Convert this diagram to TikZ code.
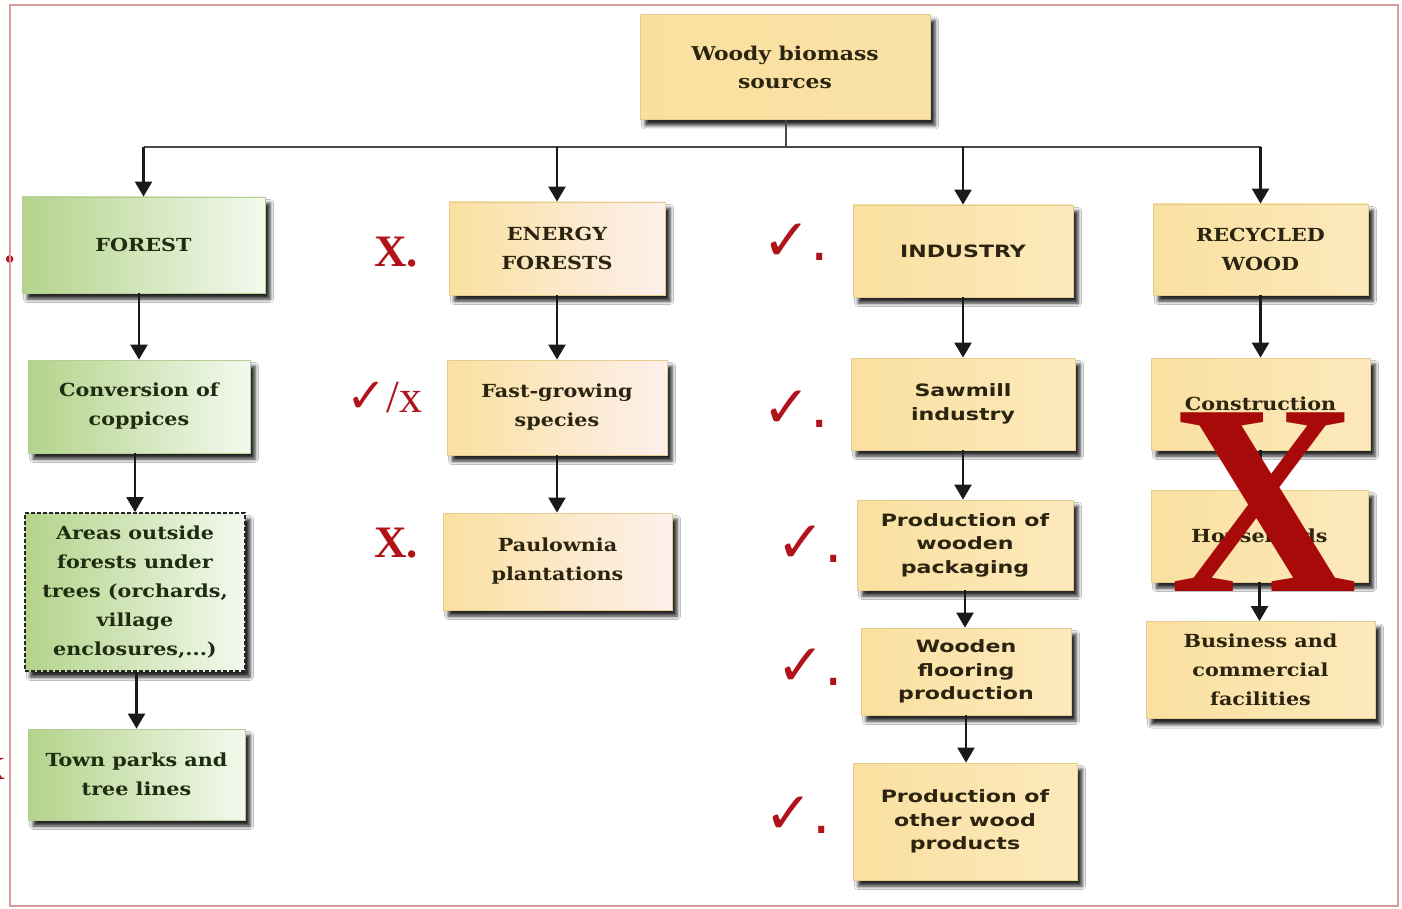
\documentclass[tikz,border=0pt]{standalone}
\usepackage{fontspec}
\usetikzlibrary{arrows.meta,shadows.blur}
\newfontfamily\boxserif[FakeStretch=1.15]{DejaVu Serif}
\newfontfamily\boxsans[FakeStretch=1.3]{DejaVu Sans}
\newfontfamily\markserif{Liberation Serif}
\newfontfamily\marksym{DejaVu Sans}
\definecolor{yfillA}{HTML}{FAE0A0}
\definecolor{yfillB}{HTML}{FCE9BC}
\definecolor{pfillB}{HTML}{FDF0EC}
\definecolor{gfillA}{HTML}{B3D38A}
\definecolor{gfillB}{HTML}{F3F9EE}
\definecolor{yline}{HTML}{E6CC8E}
\definecolor{gline}{HTML}{B4CE96}
\definecolor{ytext}{HTML}{2B2410}
\definecolor{gtext}{HTML}{1E2C10}
\definecolor{markred}{HTML}{B0141A}
\definecolor{bigred}{HTML}{A80A0A}
\definecolor{framepink}{HTML}{D99A9A}
\definecolor{conn}{HTML}{1A1A1A}
\newcommand{\chk}{{\bfseries ✓}{\mdseries .}}
\tikzset{
  base/.style={rectangle, align=center, inner sep=2pt,
    blur shadow={shadow xshift=5pt, shadow yshift=-6pt, shadow blur radius=3.5pt, shadow opacity=85}},
  ybox/.style={base, draw=yline, line width=0.8pt, left color=yfillA, right color=yfillB, text=ytext,
    font=\boxserif\bfseries\fontsize{18}{29}\selectfont},
  pbox/.style={ybox, right color=pfillB},
  gbox/.style={base, draw=gline, line width=0.8pt, left color=gfillA, right color=gfillB, text=gtext,
    font=\boxserif\bfseries\fontsize{18}{29}\selectfont},
  sbox/.style={ybox, font=\boxsans\bfseries\fontsize{17}{23.5}\selectfont},
  arr/.style={draw=conn, line width=2.4pt, -{Triangle[width=17pt,length=15pt]}},
  bus/.style={draw=conn!80, line width=2.2pt},
  xmark/.style={text=markred, font=\markserif\bfseries\fontsize{45}{45}\selectfont, inner sep=0pt},
  cmark/.style={text=markred, font=\marksym\fontsize{58}{58}\selectfont, inner sep=0pt, anchor=base west},
}
\begin{document}
\begin{tikzpicture}[x=1pt,y=-1pt]
\useasboundingbox (0,0) rectangle (1402,909);
\fill[white] (0,0) rectangle (1402,909);

% top
\node[ybox, minimum width=290pt, minimum height=105pt, font=\boxserif\bfseries\fontsize{19}{28}\selectfont, right color=yfillA!80!yfillB] (top) at (785,67) {Woody biomass\\sources};

% column 1
\node[gbox, minimum width=243pt, minimum height=96pt] (forest) at (143.5,245) {FOREST};
\node[gbox, minimum width=222pt, minimum height=93pt] (conv) at (139,406.5) {Conversion of\\coppices};
\node[gbox, minimum width=220pt, minimum height=158pt, draw=black!85, dash pattern=on 4pt off 2pt, line width=1.8pt] (areas) at (135,592) {Areas outside\\forests under\\trees (orchards,\\village\\enclosures,...)};
\node[gbox, minimum width=217pt, minimum height=91pt] (town) at (136.5,774.5) {Town parks and\\tree lines};

% column 2
\node[pbox, minimum width=216pt, minimum height=93pt] (energy) at (557,248.5) {ENERGY\\FORESTS};
\node[pbox, minimum width=220pt, minimum height=95pt] (fast) at (557,407.5) {Fast-growing\\species};
\node[pbox, minimum width=229pt, minimum height=97pt] (paul) at (557.5,561.5) {Paulownia\\plantations};

% column 3
\node[sbox, minimum width=220pt, minimum height=92pt] (industry) at (963,251) {INDUSTRY};
\node[sbox, minimum width=224pt, minimum height=92pt] (sawmill) at (963,404) {Sawmill\\industry};
\node[sbox, minimum width=216pt, minimum height=90pt] (pack) at (965,545) {Production of\\wooden\\packaging};
\node[sbox, minimum width=210pt, minimum height=87pt] (floor) at (966,671.5) {Wooden\\flooring\\production};
\node[sbox, minimum width=224pt, minimum height=117pt] (other) at (965,821.5) {Production of\\other wood\\products};

% column 4
\node[ybox, minimum width=215pt, minimum height=91pt] (recycled) at (1260.5,249.5) {RECYCLED\\WOOD};
\node[ybox, minimum width=219pt, minimum height=92pt] (constr) at (1260.5,404) {Construction};
\node[ybox, minimum width=217pt, minimum height=92pt] (house) at (1259.5,536) {Households};
\node[ybox, minimum width=229pt, minimum height=97pt] (business) at (1260.5,670) {Business and\\commercial\\facilities};

% connectors from top
\coordinate (busc) at (786,147);
\draw[bus] (top.south -| busc) -- (busc);
\draw[bus] (forest.north |- busc) -- (recycled.north |- busc);
\draw[arr] (forest.north |- busc) -- (forest.north);
\draw[arr] (energy.north |- busc) -- (energy.north);
\draw[arr] (industry.north |- busc) -- (industry.north);
\draw[arr] (recycled.north |- busc) -- (recycled.north);

% vertical chains
\draw[arr] (forest.south -| conv.north) -- (conv.north);
\draw[arr] (conv.south -| areas.north) -- (areas.north);
\draw[arr] (areas.south -| town.north) -- (town.north);
\draw[arr] (energy.south) -- (fast.north -| energy.south);
\draw[arr] (fast.south) -- (paul.north -| fast.south);
\draw[arr] (industry.south) -- (sawmill.north -| industry.south);
\draw[arr] (sawmill.south) -- (pack.north -| sawmill.south);
\draw[arr] (pack.south) -- (floor.north -| pack.south);
\draw[arr] (floor.south) -- (other.north -| floor.south);
\draw[arr] (recycled.south) -- (constr.north -| recycled.south);
\draw[arr] (constr.south) -- (house.north -| constr.south);
\draw[arr] (house.south) -- (business.north -| house.south);

% marks
\node[xmark] (m-energy) at (396,252) {X.};
\node[cmark] (m-fast) at (346,412) {\fontsize{48}{48}\selectfont\bfseries ✓{\markserif\mdseries\fontsize{46}{46}\selectfont /x}};
\node[xmark] (m-paul) at (396,543) {X.};
\node[cmark] (m-ind) at (762,261) {\chk};
\node[cmark] (m-saw) at (762,427) {\chk};
\node[cmark] (m-pack) at (776,562) {\chk};
\node[cmark] (m-floor) at (776,685) {\chk};
\node[cmark] (m-other) at (764,833) {\chk};
\node[xmark, anchor=base] (m-forest) at (10,263) {.};
\node[cmark, anchor=base east] (m-town) at (6,779) {\fontsize{46}{46}\selectfont ✓{\markserif\mdseries\fontsize{46}{46}\selectfont /x}};

% big cross over recycled sub-items
\node[text=bigred, font=\markserif\bfseries\fontsize{273}{273}\selectfont, inner sep=0pt, xscale=0.95] (bigx) at (1264,502) {X};

% frame
\draw[framepink, line width=2pt] (10,5) rectangle (1398,906);
\end{tikzpicture}
\end{document}
